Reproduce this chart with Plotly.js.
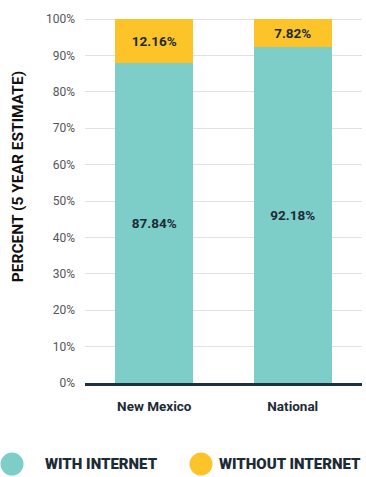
<!DOCTYPE html>
<html>
<head>
<meta charset="utf-8">
<script src="https://cdn.plot.ly/plotly-3.0.1.min.js"></script>
<style>html,body{margin:0;padding:0;background:#fff}#chart{width:366px;height:477px}</style>
</head>
<body>
<div id="chart"></div>
<script>
const categories = ["New Mexico", "National"];
const seriesNames = ["WITH INTERNET", "WITHOUT INTERNET"];
const withInternet = [87.84, 92.18];
const withoutInternet = [12.16, 7.82];
const yTickVals = [0, 10, 20, 30, 40, 50, 60, 70, 80, 90, 100];
const yTickText = ["0%", "10%", "20%", "30%", "40%", "50%", "60%", "70%", "80%", "90%", "100%"];
const axisTitle = "PERCENT (5 YEAR ESTIMATE)";

const colors = ["#7dcdc9", "#fdc42a"];
const navy = "#1c2b36";
const font = "Roboto, 'DejaVu Sans', sans-serif";

const series = [withInternet, withoutInternet];
const traces = series.map((vals, i) => ({
  type: "bar",
  x: categories,
  y: vals,
  name: seriesNames[i],
  marker: {color: colors[i], line: {width: 0}},
  texttemplate: "%{y:.2f}%",
  textposition: "inside",
  insidetextanchor: "middle",
  textangle: 0,
  constraintext: "none",
  textfont: {family: font, size: 13.5, color: navy, weight: 700},
  hoverinfo: "skip",
  showlegend: false
}));

// legend drawn as circles + labels below the plot
const legendPos = [{c: -0.2635, t: -0.1516}, {c: 0.4188, t: 0.478}];
const legendY = -0.218;
const shapes = seriesNames.map((n, i) => ({
  type: "circle", xref: "paper", yref: "paper",
  xsizemode: "pixel", ysizemode: "pixel",
  xanchor: legendPos[i].c, yanchor: legendY,
  x0: -11.5, x1: 11.5, y0: -11.5, y1: 11.5,
  fillcolor: colors[i], line: {width: 0}
}));
const annotations = seriesNames.map((n, i) => ({
  text: n, xref: "paper", yref: "paper",
  x: legendPos[i].t, y: legendY, xanchor: "left", yanchor: "middle",
  showarrow: false,
  font: {family: font, size: 15, color: navy, weight: 900}
}));
annotations.push({
  text: axisTitle, xref: "paper", yref: "paper",
  x: -0.243, y: 0.555, xanchor: "center", yanchor: "middle",
  textangle: -90, showarrow: false,
  font: {family: font, size: 15.5, color: "#111", weight: 700}
});

const layout = {
  width: 366, height: 477,
  margin: {l: 85, r: 4, t: 11, b: 94},
  paper_bgcolor: "#fff", plot_bgcolor: "#fff",
  barmode: "stack",
  bargap: 0.437,
  showlegend: false,
  xaxis: {
    type: "category",
    showline: true, linecolor: "#1d3040", linewidth: 2.5,
    showgrid: false, zeroline: false,
    ticks: "", ticklabelstandoff: 9,
    tickfont: {family: font, size: 13.5, color: navy, weight: 700},
    fixedrange: true
  },
  yaxis: {
    range: [0, 102.2],
    tickvals: yTickVals, ticktext: yTickText,
    showgrid: true, gridcolor: "#e2e2e2", gridwidth: 1,
    zeroline: false, showline: false,
    ticks: "", ticklabelstandoff: 9,
    tickfont: {family: font, size: 12, color: "#555"},
    fixedrange: true
  },
  shapes: shapes,
  annotations: annotations
};

Plotly.newPlot("chart", traces, layout, {displayModeBar: false, staticPlot: true});
</script>
</body>
</html>
